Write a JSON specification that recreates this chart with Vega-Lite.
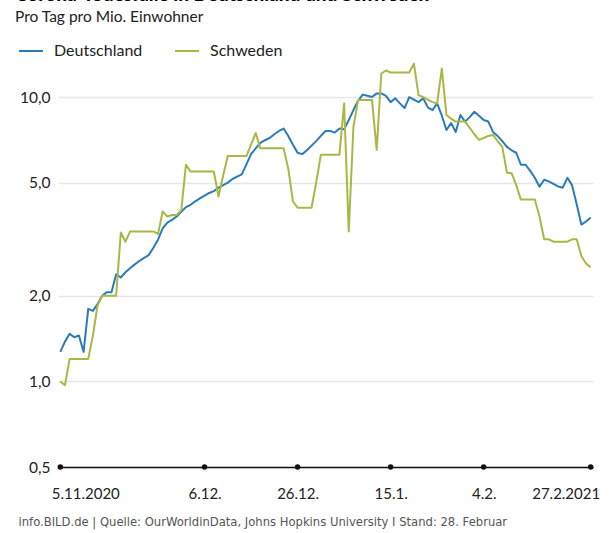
{
  "$schema": "https://vega.github.io/schema/vega-lite/v6.json",
  "width": 535,
  "height": 407,
  "autosize": {"type": "none"},
  "padding": {"left": 58, "top": 60, "right": 23, "bottom": 66},
  "background": "white",
  "config": {"font": "Lato", "view": {"stroke": null}},
  "title": {
    "text": "Corona-Todesfälle in Deutschland und Schweden",
    "subtitle": "Pro Tag pro Mio. Einwohner",
    "anchor": "start",
    "frame": "group",
    "dx": -43,
    "offset": 13,
    "fontSize": 19,
    "fontWeight": 900,
    "color": "#000",
    "subtitleFontSize": 15.5,
    "subtitleColor": "#222",
    "subtitlePadding": 5
  },
  "datasets": {
    "daily": [
      {"d": "2020-11-05", "Deutschland": 1.27, "Schweden": 1.0},
      {"d": "2020-11-06", "Deutschland": 1.38, "Schweden": 0.97},
      {"d": "2020-11-07", "Deutschland": 1.47, "Schweden": 1.2},
      {"d": "2020-11-08", "Deutschland": 1.43, "Schweden": 1.2},
      {"d": "2020-11-09", "Deutschland": 1.45, "Schweden": 1.2},
      {"d": "2020-11-10", "Deutschland": 1.27, "Schweden": 1.2},
      {"d": "2020-11-11", "Deutschland": 1.8, "Schweden": 1.2},
      {"d": "2020-11-12", "Deutschland": 1.77, "Schweden": 1.45},
      {"d": "2020-11-13", "Deutschland": 1.87, "Schweden": 1.85},
      {"d": "2020-11-14", "Deutschland": 2.0, "Schweden": 2.0},
      {"d": "2020-11-15", "Deutschland": 2.06, "Schweden": 2.0},
      {"d": "2020-11-16", "Deutschland": 2.06, "Schweden": 2.0},
      {"d": "2020-11-17", "Deutschland": 2.38, "Schweden": 2.0},
      {"d": "2020-11-18", "Deutschland": 2.32, "Schweden": 3.34},
      {"d": "2020-11-19", "Deutschland": 2.42, "Schweden": 3.1},
      {"d": "2020-11-20", "Deutschland": 2.5, "Schweden": 3.37},
      {"d": "2020-11-21", "Deutschland": 2.58, "Schweden": 3.37},
      {"d": "2020-11-22", "Deutschland": 2.65, "Schweden": 3.37},
      {"d": "2020-11-23", "Deutschland": 2.72, "Schweden": 3.37},
      {"d": "2020-11-24", "Deutschland": 2.78, "Schweden": 3.37},
      {"d": "2020-11-25", "Deutschland": 2.95, "Schweden": 3.37},
      {"d": "2020-11-26", "Deutschland": 3.15, "Schweden": 3.3},
      {"d": "2020-11-27", "Deutschland": 3.45, "Schweden": 3.96},
      {"d": "2020-11-28", "Deutschland": 3.62, "Schweden": 3.8},
      {"d": "2020-11-29", "Deutschland": 3.7, "Schweden": 3.85},
      {"d": "2020-11-30", "Deutschland": 3.8, "Schweden": 3.85},
      {"d": "2020-12-01", "Deutschland": 3.95, "Schweden": 4.0},
      {"d": "2020-12-02", "Deutschland": 4.1, "Schweden": 5.78},
      {"d": "2020-12-03", "Deutschland": 4.18, "Schweden": 5.47},
      {"d": "2020-12-04", "Deutschland": 4.3, "Schweden": 5.47},
      {"d": "2020-12-05", "Deutschland": 4.4, "Schweden": 5.47},
      {"d": "2020-12-06", "Deutschland": 4.5, "Schweden": 5.47},
      {"d": "2020-12-07", "Deutschland": 4.6, "Schweden": 5.47},
      {"d": "2020-12-08", "Deutschland": 4.67, "Schweden": 5.47},
      {"d": "2020-12-09", "Deutschland": 4.8, "Schweden": 4.47},
      {"d": "2020-12-10", "Deutschland": 4.9, "Schweden": 5.3},
      {"d": "2020-12-11", "Deutschland": 5.0, "Schweden": 6.2},
      {"d": "2020-12-12", "Deutschland": 5.15, "Schweden": 6.2},
      {"d": "2020-12-13", "Deutschland": 5.25, "Schweden": 6.2},
      {"d": "2020-12-14", "Deutschland": 5.35, "Schweden": 6.2},
      {"d": "2020-12-15", "Deutschland": 5.8, "Schweden": 6.2},
      {"d": "2020-12-16", "Deutschland": 6.3, "Schweden": 6.8},
      {"d": "2020-12-17", "Deutschland": 6.6, "Schweden": 7.48},
      {"d": "2020-12-18", "Deutschland": 6.9, "Schweden": 6.6},
      {"d": "2020-12-19", "Deutschland": 7.05, "Schweden": 6.6},
      {"d": "2020-12-20", "Deutschland": 7.18, "Schweden": 6.6},
      {"d": "2020-12-21", "Deutschland": 7.4, "Schweden": 6.6},
      {"d": "2020-12-22", "Deutschland": 7.6, "Schweden": 6.6},
      {"d": "2020-12-23", "Deutschland": 7.75, "Schweden": 6.6},
      {"d": "2020-12-24", "Deutschland": 7.3, "Schweden": 5.6},
      {"d": "2020-12-25", "Deutschland": 6.8, "Schweden": 4.3},
      {"d": "2020-12-26", "Deutschland": 6.37, "Schweden": 4.08},
      {"d": "2020-12-27", "Deutschland": 6.3, "Schweden": 4.08},
      {"d": "2020-12-28", "Deutschland": 6.5, "Schweden": 4.08},
      {"d": "2020-12-29", "Deutschland": 6.75, "Schweden": 4.08},
      {"d": "2020-12-30", "Deutschland": 7.0, "Schweden": 5.0},
      {"d": "2020-12-31", "Deutschland": 7.3, "Schweden": 6.27},
      {"d": "2021-01-01", "Deutschland": 7.6, "Schweden": 6.27},
      {"d": "2021-01-02", "Deutschland": 7.6, "Schweden": 6.27},
      {"d": "2021-01-03", "Deutschland": 7.5, "Schweden": 6.27},
      {"d": "2021-01-04", "Deutschland": 7.75, "Schweden": 6.27},
      {"d": "2021-01-05", "Deutschland": 7.7, "Schweden": 9.5},
      {"d": "2021-01-06", "Deutschland": 8.3, "Schweden": 3.37},
      {"d": "2021-01-07", "Deutschland": 9.0, "Schweden": 7.85},
      {"d": "2021-01-08", "Deutschland": 9.7, "Schweden": 9.76},
      {"d": "2021-01-09", "Deutschland": 10.2, "Schweden": 9.76},
      {"d": "2021-01-10", "Deutschland": 10.1, "Schweden": 9.76},
      {"d": "2021-01-11", "Deutschland": 10.0, "Schweden": 9.76},
      {"d": "2021-01-12", "Deutschland": 10.3, "Schweden": 6.52},
      {"d": "2021-01-13", "Deutschland": 10.3, "Schweden": 12.1},
      {"d": "2021-01-14", "Deutschland": 10.1, "Schweden": 12.4},
      {"d": "2021-01-15", "Deutschland": 9.6, "Schweden": 12.2},
      {"d": "2021-01-16", "Deutschland": 9.9, "Schweden": 12.2},
      {"d": "2021-01-17", "Deutschland": 9.5, "Schweden": 12.2},
      {"d": "2021-01-18", "Deutschland": 9.15, "Schweden": 12.2},
      {"d": "2021-01-19", "Deutschland": 10.0, "Schweden": 12.2},
      {"d": "2021-01-20", "Deutschland": 9.8, "Schweden": 13.1},
      {"d": "2021-01-21", "Deutschland": 9.6, "Schweden": 10.16},
      {"d": "2021-01-22", "Deutschland": 9.9, "Schweden": 10.0},
      {"d": "2021-01-23", "Deutschland": 9.2, "Schweden": 9.8},
      {"d": "2021-01-24", "Deutschland": 9.0, "Schweden": 9.6},
      {"d": "2021-01-25", "Deutschland": 9.5, "Schweden": 9.5},
      {"d": "2021-01-26", "Deutschland": 8.6, "Schweden": 12.6},
      {"d": "2021-01-27", "Deutschland": 7.66, "Schweden": 8.65},
      {"d": "2021-01-28", "Deutschland": 8.1, "Schweden": 8.4},
      {"d": "2021-01-29", "Deutschland": 7.54, "Schweden": 8.2},
      {"d": "2021-01-30", "Deutschland": 8.65, "Schweden": 8.2},
      {"d": "2021-01-31", "Deutschland": 8.2, "Schweden": 8.2},
      {"d": "2021-02-01", "Deutschland": 8.5, "Schweden": 7.79},
      {"d": "2021-02-02", "Deutschland": 8.88, "Schweden": 7.4},
      {"d": "2021-02-03", "Deutschland": 8.6, "Schweden": 7.07},
      {"d": "2021-02-04", "Deutschland": 8.3, "Schweden": 7.18},
      {"d": "2021-02-05", "Deutschland": 8.2, "Schweden": 7.3},
      {"d": "2021-02-06", "Deutschland": 7.54, "Schweden": 7.36},
      {"d": "2021-02-07", "Deutschland": 7.3, "Schweden": 7.0},
      {"d": "2021-02-08", "Deutschland": 7.0, "Schweden": 6.68},
      {"d": "2021-02-09", "Deutschland": 6.68, "Schweden": 5.42},
      {"d": "2021-02-10", "Deutschland": 6.5, "Schweden": 5.4},
      {"d": "2021-02-11", "Deutschland": 6.37, "Schweden": 4.9},
      {"d": "2021-02-12", "Deutschland": 5.78, "Schweden": 4.36},
      {"d": "2021-02-13", "Deutschland": 5.78, "Schweden": 4.36},
      {"d": "2021-02-14", "Deutschland": 5.5, "Schweden": 4.36},
      {"d": "2021-02-15", "Deutschland": 5.2, "Schweden": 4.36},
      {"d": "2021-02-16", "Deutschland": 4.84, "Schweden": 3.8},
      {"d": "2021-02-17", "Deutschland": 5.12, "Schweden": 3.16},
      {"d": "2021-02-18", "Deutschland": 5.05, "Schweden": 3.16},
      {"d": "2021-02-19", "Deutschland": 4.95, "Schweden": 3.1},
      {"d": "2021-02-20", "Deutschland": 4.85, "Schweden": 3.1},
      {"d": "2021-02-21", "Deutschland": 4.8, "Schweden": 3.1},
      {"d": "2021-02-22", "Deutschland": 5.2, "Schweden": 3.1},
      {"d": "2021-02-23", "Deutschland": 4.9, "Schweden": 3.16},
      {"d": "2021-02-24", "Deutschland": 4.2, "Schweden": 3.16},
      {"d": "2021-02-25", "Deutschland": 3.56, "Schweden": 2.76},
      {"d": "2021-02-26", "Deutschland": 3.65, "Schweden": 2.6},
      {"d": "2021-02-27", "Deutschland": 3.77, "Schweden": 2.52}
    ],
    "ticks": [
      {"d": "2020-11-05", "v": 0.5},
      {"d": "2020-12-06", "v": 0.5},
      {"d": "2020-12-26", "v": 0.5},
      {"d": "2021-01-15", "v": 0.5},
      {"d": "2021-02-04", "v": 0.5},
      {"d": "2021-02-27", "v": 0.5}
    ]
  },
  "layer": [
    {
      "data": {"name": "daily"},
      "transform": [{"fold": ["Deutschland", "Schweden"], "as": ["Land", "Wert"]}],
      "mark": {"type": "line", "strokeWidth": 2, "strokeJoin": "round"},
      "encoding": {
        "x": {
          "field": "d",
          "type": "temporal",
          "scale": {
            "type": "utc",
            "domain": [
              {"year": 2020, "month": 11, "date": 4, "hours": 12, "utc": true},
              {"year": 2021, "month": 2, "date": 27, "hours": 12, "utc": true}
            ]
          },
          "axis": {
            "values": [
              {"year": 2020, "month": 11, "date": 5, "utc": true},
              {"year": 2020, "month": 12, "date": 6, "utc": true},
              {"year": 2020, "month": 12, "date": 26, "utc": true},
              {"year": 2021, "month": 1, "date": 15, "utc": true},
              {"year": 2021, "month": 2, "date": 4, "utc": true},
              {"year": 2021, "month": 2, "date": 27, "utc": true}
            ],
            "labelExpr": "datum.index == 0 || datum.index == 1 ? utcFormat(datum.value, '%-d.%-m.%Y') : utcFormat(datum.value, '%-d.%-m.')",
            "labelFlush": 6,
            "labelFlushOffset": 9,
            "labelFontSize": 15,
            "labelColor": "#222",
            "labelPadding": 19,
            "ticks": false,
            "tickSize": 0,
            "grid": false,
            "domainColor": "#111",
            "domainWidth": 1.5,
            "title": "info.BILD.de | Quelle: OurWorldinData, Johns Hopkins University I Stand: 28. Februar",
            "titleFont": "DejaVu Sans",
            "titleFontSize": 11.6,
            "titleFontWeight": "normal",
            "titleColor": "#555",
            "titleAnchor": "start",
            "titleAlign": "left",
            "titleBaseline": "alphabetic",
            "titleX": -40,
            "titleY": 58
          }
        },
        "y": {
          "field": "Wert",
          "type": "quantitative",
          "scale": {"type": "log", "domain": [0.5, 13.5], "nice": false},
          "axis": {
            "values": [0.5, 1, 2, 5, 10],
            "labelExpr": "replace(format(datum.value, '.1f'), '.', ',')",
            "labelFontSize": 15.5,
            "labelColor": "#222",
            "labelPadding": 8,
            "ticks": false,
            "domain": false,
            "grid": true,
            "gridColor": "#e6e6e6",
            "gridWidth": 1.5,
            "title": null
          }
        },
        "color": {
          "field": "Land",
          "type": "nominal",
          "scale": {"domain": ["Deutschland", "Schweden"], "range": ["#2b7bba", "#a9b844"]},
          "legend": {
            "orient": "none",
            "legendX": -40,
            "legendY": -22,
            "direction": "horizontal",
            "title": null,
            "symbolType": "stroke",
            "symbolSize": 576,
            "symbolStrokeWidth": 2,
            "labelFontSize": 16,
            "labelColor": "#222",
            "labelOffset": 10,
            "columnPadding": 28
          }
        }
      }
    },
    {
      "data": {"name": "ticks"},
      "mark": {"type": "point", "filled": true, "color": "#111", "size": 30, "opacity": 1},
      "encoding": {
        "x": {"field": "d", "type": "temporal"},
        "y": {"field": "v", "type": "quantitative"}
      }
    }
  ]
}
